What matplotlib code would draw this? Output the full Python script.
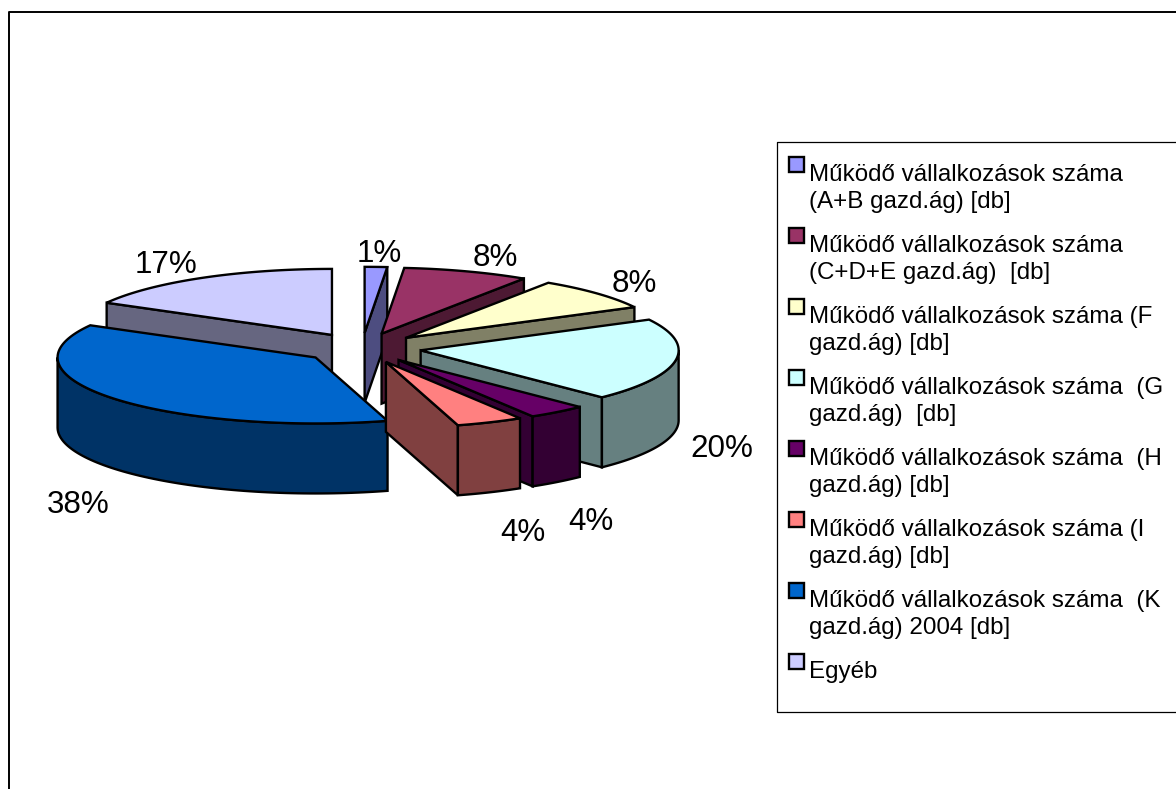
import numpy as np
import matplotlib
matplotlib.use("Agg")
import matplotlib.pyplot as plt
from matplotlib.patches import Polygon, Rectangle

plt.rcParams['font.family'] = ['Liberation Sans', 'DejaVu Sans']

# ---------- Data ----------
shares = [1.4, 7.9, 8.0, 20.3, 3.7, 4.2, 37.6, 16.9]
legend_labels = [
    "Működő vállalkozások száma\n(A+B gazd.ág) [db]",
    "Működő vállalkozások száma\n(C+D+E gazd.ág)  [db]",
    "Működő vállalkozások száma (F\ngazd.ág) [db]",
    "Működő vállalkozások száma  (G\ngazd.ág)  [db]",
    "Működő vállalkozások száma  (H\ngazd.ág) [db]",
    "Működő vállalkozások száma (I\ngazd.ág) [db]",
    "Működő vállalkozások száma  (K\ngazd.ág) 2004 [db]",
    "Egyéb",
]
top_colors = ['#9999FF', '#993366', '#FFFFCC', '#CCFFFF', '#660066', '#FF8080', '#0066CC', '#CCCCFF']
side_colors = ['#4D4D80', '#4D1933', '#808066', '#668080', '#330033', '#804040', '#003366', '#666680']

# ---------- Pie geometry (pixels) ----------
cx, cy = 362, 348
rx, ry = 258, 66
depth = 70
explode = 0.23
label_pos = [(379, 254), (495, 258), (634, 284), (722, 449), (591, 522), (523, 533), (78, 505), (166, 265)]

fig = plt.figure(figsize=(11.76, 7.89), dpi=100)
ax = fig.add_axes([0, 0, 1, 1])
ax.set_xlim(0, 1176)
ax.set_ylim(789, 0)
ax.axis('off')


def rim(ox, oy, a):
    return np.column_stack([ox + rx * np.sin(a), oy - ry * np.cos(a)])


def add_face(pts, color, z):
    ax.add_patch(Polygon(pts, closed=True, facecolor=color, edgecolor='black',
                         linewidth=1.7, joinstyle='miter', zorder=z))


# ---------- Slices, back to front ----------
edges = np.radians(np.cumsum([0] + shares) * 3.6)
mids = (edges[:-1] + edges[1:]) / 2
order = np.argsort(-np.cos(mids))

for rank, i in enumerate(order):
    s, e = edges[i], edges[i + 1]
    ox = cx + explode * rx * np.sin(mids[i])
    oy = cy - explode * ry * np.cos(mids[i])
    apex = np.array([ox, oy])
    drop = np.array([0, depth])
    z = 2 + rank
    # radial walls that face the viewer
    if np.sin(s) < -1e-6:
        p = rim(ox, oy, np.array([s]))[0]
        add_face([apex, p, p + drop, apex + drop], side_colors[i], z)
    if np.sin(e) > 1e-6:
        p = rim(ox, oy, np.array([e]))[0]
        add_face([apex, p, p + drop, apex + drop], side_colors[i], z)
    # outer wall, only the front half of the ellipse
    lo, hi = max(s, np.pi / 2), min(e, 3 * np.pi / 2)
    if hi > lo:
        arc = rim(ox, oy, np.linspace(lo, hi, 80))
        add_face(np.vstack([arc, arc[::-1] + drop]), side_colors[i], z)
    # top face
    arc = rim(ox, oy, np.linspace(s, e, 120))
    add_face(np.vstack([apex, arc]), top_colors[i], z)

for val, (x, y) in zip(shares, label_pos):
    ax.text(x, y, f"{val:.0f}%", fontsize=22.6, ha='center', va='center', color='black', zorder=20)

# ---------- Frame ----------
ax.plot([1176, 9, 9], [12, 12, 789], color='black', lw=1.4, zorder=1)

# ---------- Legend ----------
ax.plot([1176, 777, 777, 1176], [142, 142, 712, 712], color='black', lw=0.9, zorder=1)
key_y = [157, 228, 299, 370, 441, 512, 583, 654]
for lab, col, y in zip(legend_labels, top_colors, key_y):
    ax.add_patch(Rectangle((789, y), 15, 15, facecolor=col, edgecolor='black', linewidth=1.7, zorder=3))
    ax.text(809, y + 7, lab, fontsize=17.35, ha='left', va='top', linespacing=1.29, color='black', zorder=3)

fig.savefig("out.png", dpi=100)
